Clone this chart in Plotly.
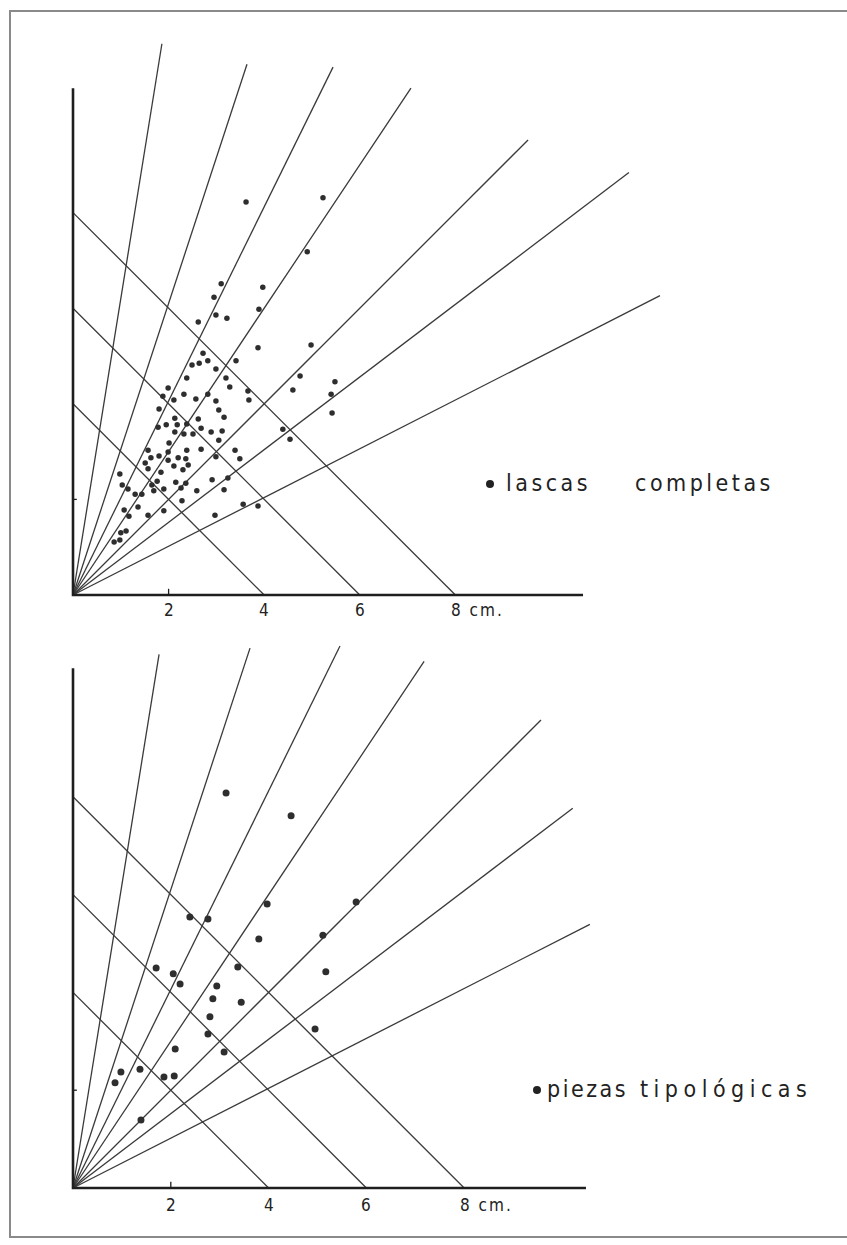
import plotly.graph_objects as go

# ---------------- data (cm) ----------------
# length/width ratio lines (slopes of the rays from the origin)
ratios = [6.2, 3.05, 2.03, 1.5, 1.0, 0.76, 0.51]
top_ray_x_end = [1.86, 3.64, 5.44, 7.07, 9.52, 11.63, 12.28]
bottom_ray_x_end = [1.76, 3.62, 5.46, 7.18, 9.57, 10.22, 10.57]
# size lines: width + length = constant
sum_lines = [4, 6, 8]
tick_values = [2, 4, 6, 8]
tick_labels = ["2", "4", "6", "8 cm."]
top_axis_len = [10.67, 10.60]     # x, y
bottom_axis_len = [10.49, 10.63]

# lascas completas: width (x) and length (y), cm
lascas_w = [3.62, 5.23, 4.90, 3.10, 3.97, 2.95, 3.89, 2.99, 3.22, 2.62,
            3.87, 4.98, 2.72, 2.82, 3.41, 2.49, 2.64, 2.99, 4.75, 2.38,
            3.20, 5.48, 3.28, 4.60, 3.66, 3.68, 5.40, 1.99, 1.88, 2.32,
            2.82, 2.11, 2.57, 2.99, 1.80, 3.05, 5.42, 3.16, 2.13, 2.62,
            1.78, 1.95, 2.18, 2.38, 2.68, 2.89, 3.12, 2.13, 2.32, 2.51,
            4.39, 4.54, 2.01, 3.05, 1.57, 1.80, 1.99, 2.38, 2.68, 3.39,
            1.63, 1.51, 1.99, 2.20, 2.36, 2.99, 3.49, 1.57, 1.84, 2.11,
            2.30, 2.41, 0.98, 1.76, 2.15, 2.36, 2.91, 3.24, 1.03, 1.15,
            1.65, 1.69, 1.90, 2.26, 2.59, 3.16, 1.30, 1.44, 1.36, 1.07,
            1.17, 1.57, 1.90, 2.28, 2.97, 3.56, 3.87, 0.86, 0.98, 1.00,
            1.11]
lascas_l = [8.22, 8.31, 7.18, 6.51, 6.44, 6.23, 5.98, 5.86, 5.79, 5.71,
            5.17, 5.23, 5.06, 4.90, 4.90, 4.81, 4.85, 4.73, 4.58, 4.54,
            4.54, 4.46, 4.35, 4.29, 4.27, 4.08, 4.20, 4.33, 4.16, 4.20,
            4.20, 4.08, 4.10, 4.06, 3.89, 3.87, 3.81, 3.72, 3.70, 3.68,
            3.51, 3.56, 3.56, 3.58, 3.49, 3.41, 3.43, 3.41, 3.37, 3.37,
            3.47, 3.26, 3.18, 3.24, 3.03, 2.91, 2.99, 3.03, 3.05, 3.03,
            2.87, 2.76, 2.82, 2.87, 2.85, 2.89, 2.85, 2.64, 2.57, 2.70,
            2.62, 2.72, 2.53, 2.38, 2.36, 2.34, 2.41, 2.45, 2.30, 2.22,
            2.30, 2.18, 2.22, 2.24, 2.18, 2.20, 2.11, 2.11, 1.84, 1.78,
            1.65, 1.67, 1.76, 1.97, 1.67, 1.90, 1.86, 1.11, 1.15, 1.30,
            1.34]

# piezas tipologicas: width (x) and length (y), cm
piezas_w = [3.13, 4.46, 3.97, 2.39, 2.76, 3.80, 5.11, 5.79, 1.70, 2.05,
            2.19, 3.37, 5.17, 2.94, 2.86, 3.44, 2.80, 2.76, 2.09, 3.09,
            4.95, 0.98, 1.37, 0.86, 1.86, 2.07, 1.39]
piezas_l = [8.08, 7.61, 5.81, 5.54, 5.50, 5.09, 5.17, 5.85, 4.50, 4.38,
            4.17, 4.52, 4.42, 4.13, 3.87, 3.80, 3.50, 3.15, 2.84, 2.78,
            3.25, 2.37, 2.43, 2.15, 2.27, 2.29, 1.39]

LINE = "#3a3a3a"
AXIS = "#1e1e1e"
FONT = "DejaVu Sans Condensed, Liberation Sans Narrow, DejaVu Sans, sans-serif"

fig = go.Figure()


def add_panel(xa, ya, ray_x_end, axis_len, w, l, msize):
    # rays
    rx, ry = [], []
    for r, xe in zip(ratios, ray_x_end):
        rx += [0, xe, None]
        ry += [0, r * xe, None]
    fig.add_trace(go.Scatter(x=rx, y=ry, mode="lines", xaxis=xa, yaxis=ya,
                             line=dict(color=LINE, width=1.3),
                             hoverinfo="skip", showlegend=False))
    # diagonals
    dx, dy = [], []
    for s in sum_lines:
        dx += [s, 0, None]
        dy += [0, s, None]
    fig.add_trace(go.Scatter(x=dx, y=dy, mode="lines", xaxis=xa, yaxis=ya,
                             line=dict(color=LINE, width=1.3),
                             hoverinfo="skip", showlegend=False))
    # axes
    fig.add_trace(go.Scatter(x=[axis_len[0], 0, 0], y=[0, 0, axis_len[1]],
                             mode="lines", xaxis=xa, yaxis=ya,
                             line=dict(color=AXIS, width=2.6),
                             hoverinfo="skip", showlegend=False))
    # small ticks at 2
    fig.add_trace(go.Scatter(x=[tick_values[0], tick_values[0], None, 0, 0.08],
                             y=[0, 0.13, None, tick_values[0], tick_values[0]],
                             mode="lines", xaxis=xa, yaxis=ya,
                             line=dict(color=AXIS, width=1.3),
                             hoverinfo="skip", showlegend=False))
    # points
    fig.add_trace(go.Scatter(x=w, y=l, mode="markers", xaxis=xa, yaxis=ya,
                             marker=dict(color="#2e2e2e", size=msize),
                             showlegend=False))


add_panel("x", "y", top_ray_x_end, top_axis_len, lascas_w, lascas_l, 5.5)
add_panel("x2", "y2", bottom_ray_x_end, bottom_axis_len, piezas_w, piezas_l, 7)

tick_font = dict(family=FONT, size=17, color="#222")
annotations = []
for xr, yr, shift in (("x", "y", -15), ("x2", "y2", -17)):
    for v, t in zip(tick_values, tick_labels):
        if t.startswith("8"):
            annotations.append(dict(x=v, y=0, xref=xr, yref=yr,
                                    text='<span style="letter-spacing:2px">' + t + "</span>",
                                    showarrow=False, xanchor="left", xshift=-6,
                                    yshift=shift, font=tick_font))
        else:
            annotations.append(dict(x=v, y=0, xref=xr, yref=yr, text=t,
                                    showarrow=False, yshift=shift, font=tick_font))

legend_font = dict(family=FONT, size=23, color="#222")


def word(txt, px, py, spacing):
    return dict(x=px / 847, y=1 - py / 1245, xref="paper", yref="paper",
                text='<span style="letter-spacing:%spx">' % spacing + txt + "</span>",
                showarrow=False, xanchor="left", yanchor="middle",
                font=legend_font)


annotations += [word("lascas", 504, 483, 3.5), word("completas", 633, 483, 3.5),
                word("piezas", 545, 1089, 2.5), word("tipológicas", 638, 1089, 5.5)]

# legend bullets
fig.add_trace(go.Scatter(x=[(490 - 73) / 47.8], y=[(595 - 484) / 47.8],
                         mode="markers", xaxis="x", yaxis="y",
                         marker=dict(color="#222", size=8), showlegend=False))
fig.add_trace(go.Scatter(x=[(537 - 73) / 48.9], y=[(1188 - 1090) / 48.9],
                         mode="markers", xaxis="x2", yaxis="y2",
                         marker=dict(color="#222", size=8), showlegend=False))

ax = dict(visible=False, showgrid=False, zeroline=False)
fig.update_layout(
    width=847, height=1245, autosize=False,
    margin=dict(l=0, r=0, t=0, b=0, pad=0),
    paper_bgcolor="white", plot_bgcolor="white",
    xaxis=dict(ax, domain=[0, 1], range=[-73 / 47.8, (847 - 73) / 47.8], anchor="y"),
    yaxis=dict(ax, domain=[1 - 622 / 1245, 1], range=[(595 - 622) / 47.8, 595 / 47.8], anchor="x"),
    xaxis2=dict(ax, domain=[0, 1], range=[-73 / 48.9, (847 - 73) / 48.9], anchor="y2"),
    yaxis2=dict(ax, domain=[0, 1 - 622 / 1245], range=[(1188 - 1245) / 48.9, (1188 - 622) / 48.9], anchor="x2"),
    annotations=annotations,
    shapes=[dict(type="rect", xref="paper", yref="paper",
                 x0=10 / 847, x1=1.02, y0=1 - 1237 / 1245, y1=1 - 11 / 1245,
                 line=dict(color="#8a8a8a", width=2))],
    showlegend=False,
)

fig.write_html("out.html")
